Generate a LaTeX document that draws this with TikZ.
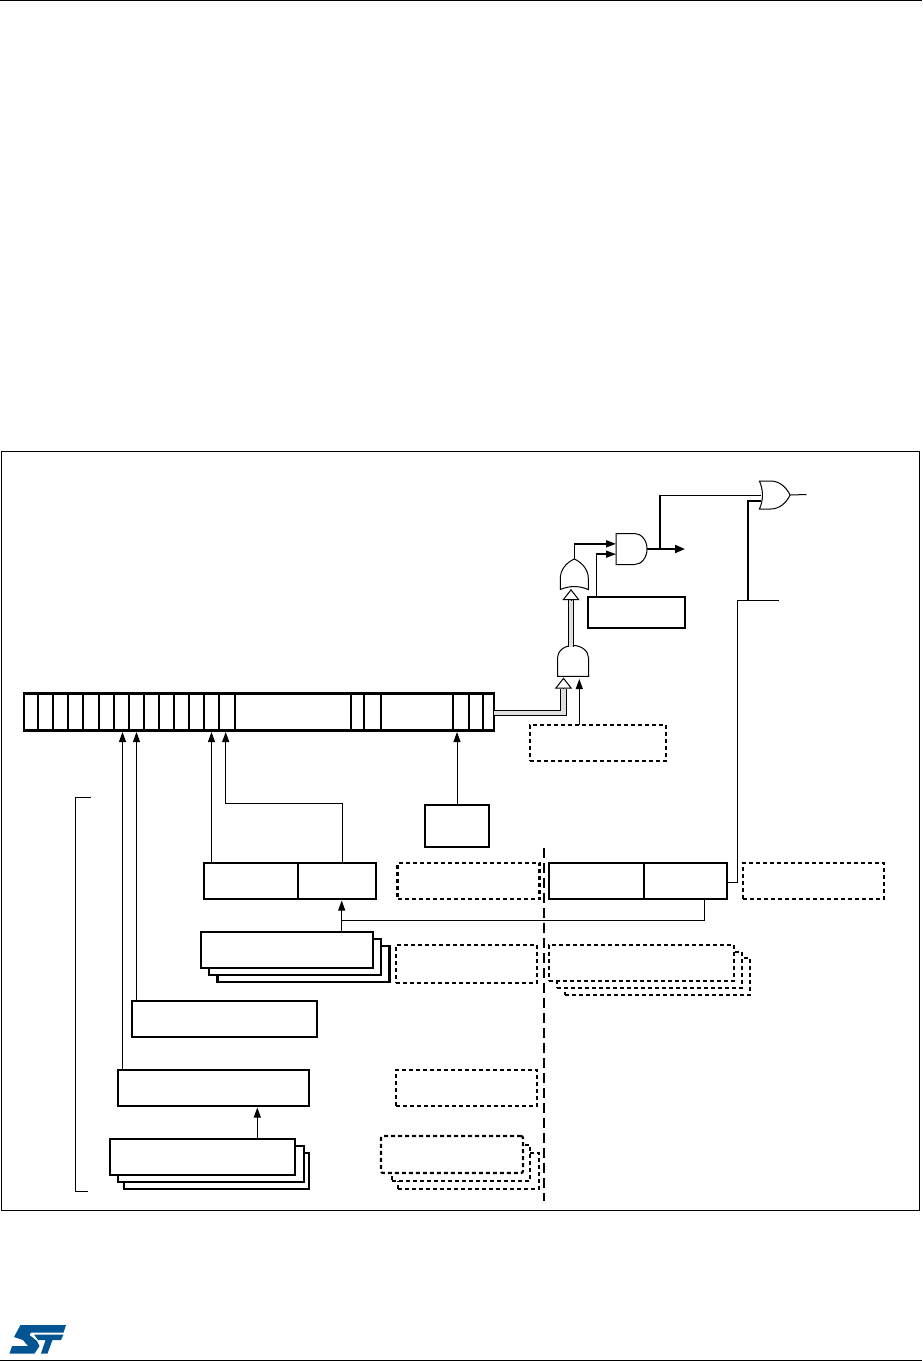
\documentclass[tikz,border=0pt]{standalone}
\usepackage{tikz}
\usetikzlibrary{arrows.meta,positioning,shapes.gates.logic.US}
\definecolor{stblue}{RGB}{3,84,146}
\tikzset{
  wire/.style={line width=1pt},
  headwire/.style={line width=1pt,-{Triangle[length=10pt,width=7pt]},shorten >=1.5pt},
  gatewire/.style={line width=1.5pt,-{Triangle[length=10pt,width=7pt]}},
  boldwire/.style={line width=2pt},
  solidbox/.style={draw,line width=2.3pt,fill=white,anchor=north west,inner sep=0pt,outer sep=0pt},
  dashbox/.style={draw,line width=2.2pt,dash pattern=on 4pt off 3pt,fill=white,anchor=north west,inner sep=0pt,outer sep=0pt},
  bitcell/.style={draw,line width=2.3pt,anchor=north west,inner sep=0pt,outer sep=0pt,minimum height=37pt},
  gate/.style={draw,line width=1pt,inner sep=0pt,outer sep=0pt,logic gate inputs=nn,xscale=0.8,transform shape},
  busline/.style={line width=1pt,double=gray!25,double distance=4.5pt},
  busarrow/.style={draw,line width=1pt,fill=white,-{Triangle[open,fill=white,length=11pt,width=17pt,line width=1pt]}}
}
\begin{document}
\begin{tikzpicture}[x=1pt,y=-1pt]
  \useasboundingbox (0,0) rectangle (922,1361);
  % Page rules and frame
  \coordinate (headl) at (0,0.7);
  \coordinate (headr) at (922,0.7);
  \coordinate (footl) at (0,1360);
  \coordinate (footr) at (922,1360);
  \draw[wire] (headl) -- (headr);
  \draw[wire] (footl) -- (footr);
  \draw[wire] (1,451) rectangle (919,1210);
  % Logo
  \fill[stblue] (20.5,1325) -- (66,1325) -- (63.5,1332.5) -- (31,1332.5) -- (29.5,1335) -- (37,1341) -- (39.5,1346)
    -- (34.5,1353.5) -- (9.5,1353.5) -- (12,1346) -- (28,1346) -- (23,1340) -- (14,1337) -- cycle;
  \fill[stblue] (34,1334.5) -- (63.5,1334.5) -- (61,1340) -- (52.5,1340) -- (47.5,1353.5) -- (41,1353.5) -- (45.5,1340) -- (38,1340) -- cycle;
  % Register cells
  \foreach \i/\xa/\xb in {1/24/38,2/38/53,3/53/68,4/68/83,5/83/99,6/99/114,7/114/129,8/129/144,9/144/159,
      10/159/174,11/174/189,12/189/204,13/204/219,14/219/235,15/235/351,16/351/364,17/364/381,18/381/453,
      19/453/469,20/469/483,21/483/494} {
    \pgfmathsetmacro{\cellw}{\xb-\xa}
    \node[bitcell,minimum width=\cellw pt] (cell\i) at (\xa,693.5) {};
  }
  % Lower left boxes
  \node[solidbox,minimum width=172pt,minimum height=36pt] (tima) at (204,863) {};
  \node[solidbox,minimum width=78pt,minimum height=36pt] (timacc) at (298,863) {};
  \node[solidbox,minimum width=172pt,minimum height=36pt] (stackc) at (217.5,946) {};
  \node[solidbox,minimum width=172pt,minimum height=36pt] (stackb) at (209,939) {};
  \node[solidbox,minimum width=172pt,minimum height=36pt] (stacka) at (201,932) {};
  \node[solidbox,minimum width=185pt,minimum height=36pt] (boxmid) at (132,1001) {};
  \node[solidbox,minimum width=191pt,minimum height=36pt] (boxlow) at (118,1070) {};
  \node[solidbox,minimum width=185pt,minimum height=36pt] (stackf) at (124,1153) {};
  \node[solidbox,minimum width=186pt,minimum height=36pt] (stacke) at (118,1146) {};
  \node[solidbox,minimum width=185pt,minimum height=36pt] (stackd) at (110,1139) {};
  \node[solidbox,minimum width=64pt,minimum height=42pt] (boxtop) at (425,805) {};
  % Dashed boxes in the middle
  \node[dashbox,minimum width=142pt,minimum height=36pt] (dashone) at (397.5,863) {};
  \node[dashbox,minimum width=141pt,minimum height=38pt] (dashtwo) at (396,945) {};
  \node[dashbox,minimum width=141pt,minimum height=36pt] (dashthree) at (396,1070) {};
  \node[dashbox,minimum width=141pt,minimum height=36pt] (dashf) at (398,1153) {};
  \node[dashbox,minimum width=138pt,minimum height=36pt] (dashe) at (392,1145) {};
  \node[dashbox,rounded corners=2pt,minimum width=142pt,minimum height=37pt] (dashd) at (381,1136) {};
  % Split line
  \coordinate (splittop) at (544,848);
  \coordinate (splitbot) at (544,1201);
  \draw[line width=2pt,dash pattern=on 10pt off 5pt] (splittop) -- (splitbot);
  % Right boxes
  \node[solidbox,minimum width=178pt,minimum height=36pt] (timb) at (549,863) {};
  \node[solidbox,minimum width=83pt,minimum height=36pt] (timbcc) at (644,863) {};
  \node[dashbox,minimum width=141pt,minimum height=36pt] (dashfour) at (743,863) {};
  \node[dashbox,minimum width=185pt,minimum height=37pt] (dashi) at (565,958) {};
  \node[dashbox,minimum width=185pt,minimum height=36pt] (dashh) at (557,952) {};
  \node[dashbox,minimum width=185pt,minimum height=36pt] (dashg) at (549,945) {};
  % Upper right boxes and gates
  \node[dashbox,minimum width=136pt,minimum height=36pt] (dashreg) at (530,725) {};
  \node[solidbox,line width=2.5pt,minimum width=97pt,minimum height=31pt] (maskbox) at (588,597) {};
  \node[rotate=90,gate,and gate US,minimum height=31pt] (andlow) at (573,662) {};
  \node[rotate=90,gate,or gate US,minimum height=28pt] (orup) at (574.3,576.5) {};
  \node[gate,and gate US,minimum height=31pt] (andtop) at (630.5,549) {};
  \node[gate,or gate US,minimum height=28pt] (orout) at (772.5,495) {};
  % Named ends
  \coordinate (outend) at (685,549);
  \coordinate (orend) at (806.5,494.5);
  \coordinate (tapend) at (778.5,600);
  \coordinate (tapcorner) at (737.5,600);
  \coordinate (tapjoin) at (748,600);
  \coordinate (branch) at (660,549);
  \coordinate (busin) at (563.5,677.5);
  \coordinate (thinin) at (579.3,677.5);
  \coordinate (busout) at (571,647);
  \coordinate (busorin) at (571,589);
  \coordinate (orinone) at (761,495);
  \coordinate (orintwo) at (761,500.7);
  \coordinate (ccup) at (342.7,862);
  \coordinate (ccjoin) at (341.7,920);
  \coordinate (lowin) at (257.3,1106);
  % Bracket
  \coordinate (brtop) at (91,797);
  \coordinate (brcor) at (75,797);
  \coordinate (brlow) at (75,1191);
  \coordinate (brend) at (88,1191);
  \draw[wire] (brtop) -- (brcor) -- (brlow) -- (brend);
  % Wires into the register
  \draw[headwire] ([xshift=1pt]boxlow.north -| cell7.south) -- ([xshift=1pt]cell7.south);
  \draw[headwire] (boxmid.north -| cell8.south) -- (cell8.south);
  \draw[headwire] (tima.north -| cell13.south) -- (cell13.south);
  \draw[headwire] (ccup) |- ([xshift=-1.3pt,yshift=-73pt]cell14.south) -- ([xshift=-1.3pt]cell14.south);
  \draw[headwire] (boxtop.north) -- (boxtop.north |- cell19.south);
  \draw[headwire] (ccjoin |- stacka.north) -- (ccjoin |- timacc.south);
  \draw[wire] ([xshift=19pt]timbcc.south) |- (ccjoin);
  \draw[headwire] (lowin |- stackd.north) -- (lowin);
  % Wires to the output gates
  \draw[wire] (timbcc.east |- 727,882) -- (tapcorner |- 727,882) -- (tapcorner) -- (tapend);
  \draw[boldwire] (tapjoin) |- (orintwo);
  \draw[busline] (cell21.east |- 0,713) -| ([yshift=-11pt]busin);
  \draw[busarrow] ([yshift=-11pt]busin) -- (busin);
  \draw[headwire] (dashreg.north -| thinin) -- (thinin);
  \draw[busline] (busout) -- ([yshift=-11pt]busorin);
  \draw[busarrow] ([yshift=-11pt]busorin) -- (busorin);
  \draw[gatewire] (orup.output) |- (andtop.input 1);
  \draw[gatewire] (maskbox.north -| 596.3,597) |- (andtop.input 2);
  \draw[boldwire,-{Triangle[length=10pt,width=8pt]}] (andtop.output) -- (outend);
  \draw[boldwire] (branch) -- (branch |- orinone);
  \draw[wire] (branch |- orinone) -- (orinone);
  \draw[wire] (orout.output) -- (orend);
\end{tikzpicture}
\end{document}
